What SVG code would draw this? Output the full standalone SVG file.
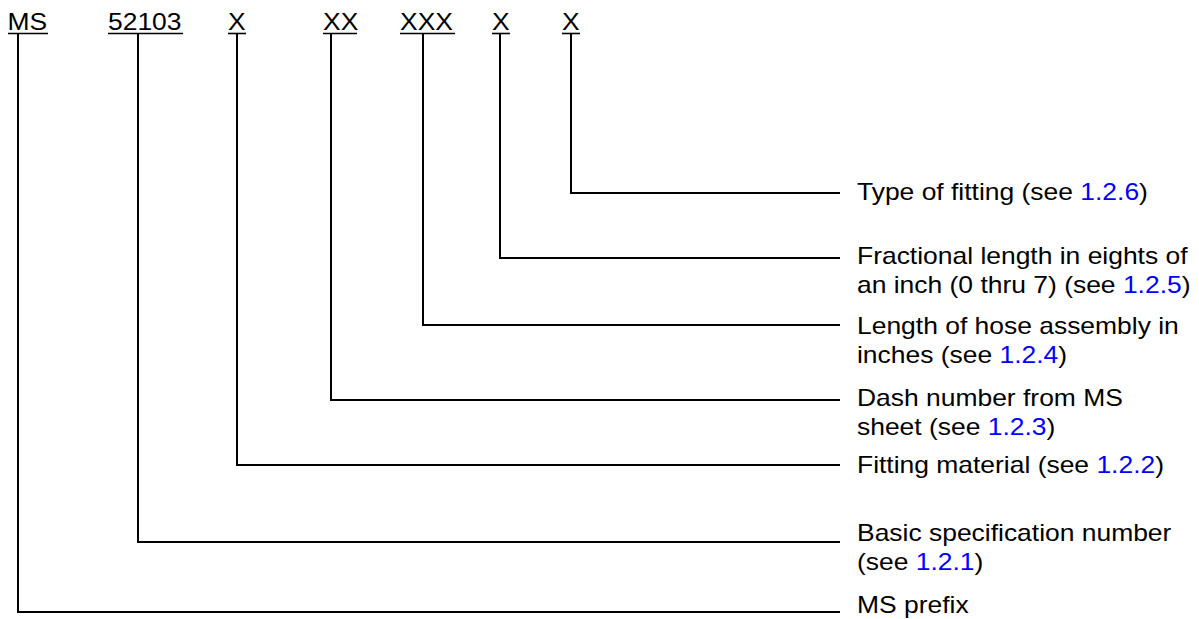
<svg xmlns="http://www.w3.org/2000/svg" width="1199" height="619" viewBox="0 0 1199 619">
<style>
text{font-family:"Liberation Sans",Arial,sans-serif;font-size:23px;fill:#000}
.ref{fill:#0000FF}
.conn line,.conn polyline{stroke:#000;stroke-width:2;fill:none}
.ul{stroke:#000;stroke-width:1.6}
</style>
<rect width="1199" height="619" fill="#fff"/>
<g id="header">
<g id="code-ms"><text transform="translate(7.5,29.5) scale(1.15,1)">MS</text><line class="ul" x1="8" y1="33.5" x2="48" y2="33.5"/></g>
<g id="code-52103"><text transform="translate(108,29.5) scale(1.15,1)">52103</text><line class="ul" x1="108" y1="33.5" x2="183" y2="33.5"/></g>
<g id="code-x1"><text transform="translate(228,29.5) scale(1.15,1)">X</text><line class="ul" x1="228" y1="33.5" x2="246" y2="33.5"/></g>
<g id="code-xx"><text transform="translate(323,29.5) scale(1.15,1)">XX</text><line class="ul" x1="323" y1="33.5" x2="357" y2="33.5"/></g>
<g id="code-xxx"><text transform="translate(400,29.5) scale(1.15,1)">XXX</text><line class="ul" x1="400" y1="33.5" x2="455" y2="33.5"/></g>
<g id="code-x2"><text transform="translate(492,29.5) scale(1.15,1)">X</text><line class="ul" x1="492" y1="33.5" x2="510" y2="33.5"/></g>
<g id="code-x3"><text transform="translate(562,29.5) scale(1.15,1)">X</text><line class="ul" x1="562" y1="33.5" x2="580" y2="33.5"/></g>
</g>
<g id="connectors" class="conn">
<polyline points="571,34 571,193 840,193"/>
<polyline points="500,34 500,258 840,258"/>
<polyline points="423,34 423,325 840,325"/>
<polyline points="331,34 331,400 840,400"/>
<polyline points="237,34 237,465 840,465"/>
<polyline points="138,34 138,542 840,542"/>
<polyline points="18,34 18,612 840,612"/>
</g>
<g id="label-type"><text transform="translate(857,200) scale(1.15,1)">Type of fitting (see <tspan class="ref">1.2.6</tspan>)</text></g>
<g id="label-fraction"><text transform="translate(857,264) scale(1.15,1)">Fractional length in eights of</text><text transform="translate(857,293) scale(1.15,1)">an inch (0 thru 7) (see <tspan class="ref">1.2.5</tspan>)</text></g>
<g id="label-length"><text transform="translate(857,334) scale(1.15,1)">Length of hose assembly in</text><text transform="translate(857,363) scale(1.15,1)">inches (see <tspan class="ref">1.2.4</tspan>)</text></g>
<g id="label-dash"><text transform="translate(857,406) scale(1.15,1)">Dash number from MS</text><text transform="translate(857,435) scale(1.15,1)">sheet (see <tspan class="ref">1.2.3</tspan>)</text></g>
<g id="label-material"><text transform="translate(857,473) scale(1.15,1)">Fitting material (see <tspan class="ref">1.2.2</tspan>)</text></g>
<g id="label-basic"><text transform="translate(857,541) scale(1.15,1)">Basic specification number</text><text transform="translate(857,570) scale(1.15,1)">(see <tspan class="ref">1.2.1</tspan>)</text></g>
<g id="label-prefix"><text transform="translate(857,613) scale(1.15,1)">MS prefix</text></g>
</svg>
